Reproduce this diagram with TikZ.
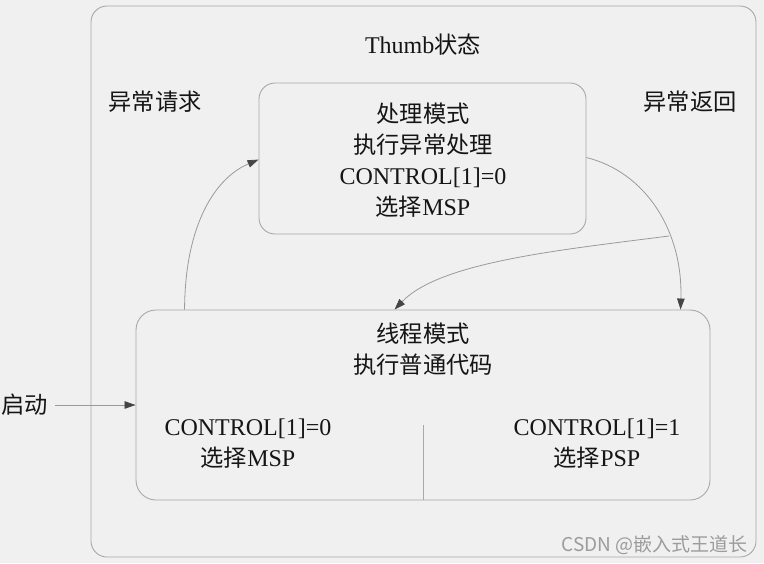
\documentclass[tikz,border=0pt]{standalone}
\usepackage{fontspec}
\setmainfont{Liberation Serif}
\newfontfamily\cjk{Noto Sans CJK SC}[Scale=0.97]
\newfontfamily\wmfont{Noto Sans CJK SC}
\usetikzlibrary{arrows.meta,calc}
\definecolor{bgc}{HTML}{F0F0F0}
\definecolor{edgec}{HTML}{A8A8A8}
\definecolor{linec}{HTML}{9A9A9A}
\definecolor{tipc}{HTML}{454545}
\definecolor{txtc}{HTML}{151515}
\definecolor{wmc}{HTML}{9C9C9C}
\begin{document}
\begin{tikzpicture}[x=1pt,y=-1pt,
  box/.style={draw=edgec, line width=0.9pt, rounded corners=16pt, inner sep=0pt},
  txt/.style={text=txtc, font=\fontsize{24}{31}\selectfont, align=center, inner sep=0pt},
  conn/.style={draw=linec, line width=0.8pt, -{Triangle[length=11pt,width=7.5pt,color=tipc]}}
]
\fill[bgc] (0,0) rectangle (764,563);
\useasboundingbox (0,0) rectangle (764,563);
% outer Thumb state box
\node[box, minimum width=665pt, minimum height=551pt] (outer) at (423.5,281.5) {};
\node[txt] (title) at (423,45) {Thumb{\cjk 状态}};
\node[txt] (req) at (155,102) {\cjk 异常请求};
\node[txt] (ret) at (690,102) {\cjk 异常返回};
% handler mode
\node[box, minimum width=327pt, minimum height=151pt] (hm) at (422.5,158.5) {};
\node[txt] (hmtext) at (423,160) {{\cjk 处理模式}\\{\cjk 执行异常处理}\\CONTROL[1]=0\\{\cjk 选择}MSP};
% thread mode
\node[box, rounded corners=20pt, minimum width=574pt, minimum height=190pt] (tm) at (423,405) {};
\node[txt] (tmtext) at (423,349) {{\cjk 线程模式}\\{\cjk 执行普通代码}};
\node[txt] (msp) at (248,444) {CONTROL[1]=0\\{\cjk 选择}MSP};
\node[txt] (psp) at (597,444) {CONTROL[1]=1\\{\cjk 选择}PSP};
\coordinate (divtop) at (423,425);
\draw[edgec, line width=0.9pt] (divtop) -- (divtop |- tm.south);
% start
\node[txt, anchor=west] (start) at (1.5,405) {\cjk 启动};
\draw[conn] (start.east) ++(7,0) coordinate (s0) (s0) -- (tm.west);
% exception request
\coordinate (a1s) at ($(tm.north west)+(49,0)$);
\coordinate (a1e) at ($(hm.north west)+(0,77)$);
\draw[conn] (a1s) .. controls (185,225) and (215,178) .. (a1e);
% exception return
\coordinate (a2s) at ($(hm.north east)+(0,75)$);
\coordinate (a2e) at ($(tm.north west)+(545,0)$);
\draw[conn] (a2s) .. controls (645,172) and (683,230) .. (a2e);
\coordinate (a3s) at (669,236);
\coordinate (a3e) at ($(tm.north west)+(259,0)$);
\draw[conn] (a3s) .. controls (560,250) and (440,262) .. (a3e);
% watermark
\node[text=wmc, font=\wmfont\fontsize{19}{22}\selectfont, anchor=east, inner sep=0pt] (wm) at (748,545) {CSDN @嵌入式王道长};
\end{tikzpicture}
\end{document}
